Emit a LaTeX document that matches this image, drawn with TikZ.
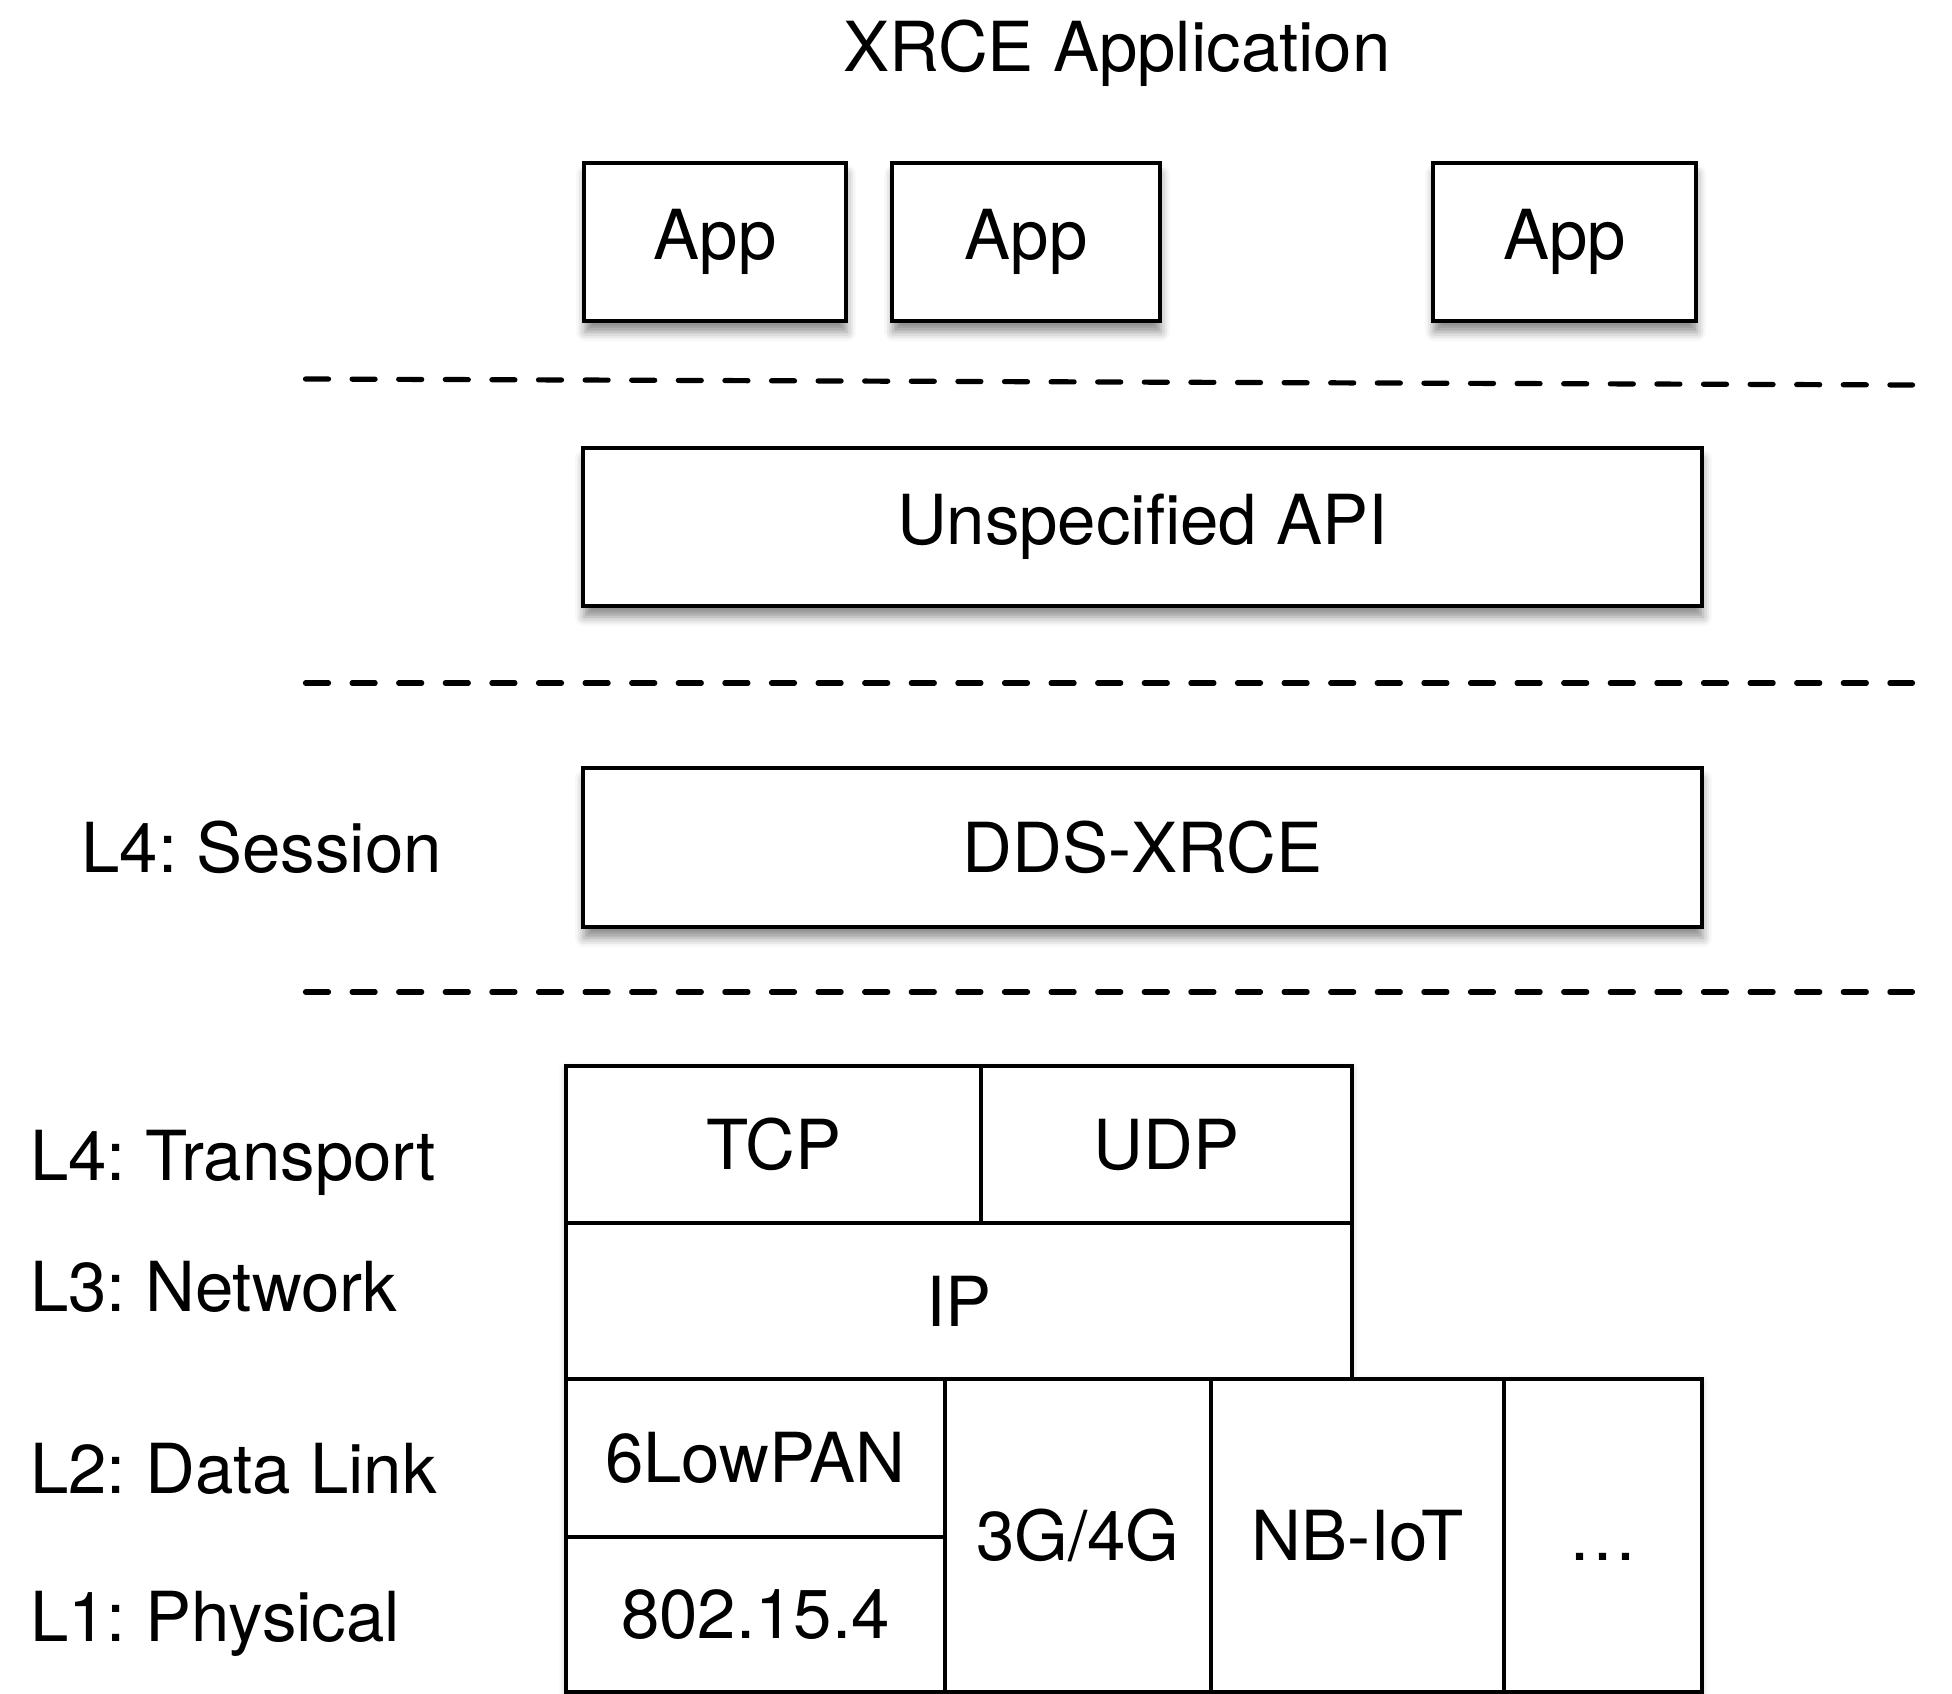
\documentclass[tikz,border=0pt]{standalone}
\usepackage{fontspec}
\setmainfont{TeX Gyre Heros}
\usetikzlibrary{shadows.blur}
\frenchspacing

\tikzset{
  lbl/.style={inner sep=0pt, font=\fontsize{69}{80}\selectfont},
  layerbox/.style={draw=black, line width=4.6pt, fill=white, inner sep=0pt,
    font=\fontsize{69}{80}\selectfont,
    blur shadow={shadow xshift=1pt, shadow yshift=-11pt, shadow blur radius=9pt, shadow opacity=45}},
  cell/.style={draw=black, line width=3.8pt, fill=white, inner sep=0pt,
    font=\fontsize{69}{80}\selectfont},
  divider/.style={line width=5.2pt, line cap=round, dash pattern=on 23pt off 23.6pt},
}

\begin{document}
\begin{tikzpicture}[x=1pt, y=-1pt]
  \useasboundingbox (0,0) rectangle (1952,1694);

  % heading
  \node[lbl, anchor=base] (title) at (1117,71) {XRCE Application};

  % applications
  \node[layerbox, minimum width=262pt, minimum height=158pt] (app1) at (715,242) {App};
  \node[layerbox, minimum width=268pt, minimum height=158pt] (app2) at (1026,242) {App};
  \node[layerbox, minimum width=263pt, minimum height=158pt] (app3) at (1564.5,242) {App};

  % layer separators
  \coordinate (d1a) at (305.5,379);  \coordinate (d1b) at (1912.5,385);
  \coordinate (d2a) at (305.5,683);  \coordinate (d2b) at (1912.5,683);
  \coordinate (d3a) at (305.5,992);  \coordinate (d3b) at (1912.5,992);
  \draw[divider] (d1a) -- (d1b);
  \draw[divider] (d2a) -- (d2b);
  \draw[divider] (d3a) -- (d3b);

  % API and session layers
  \node[layerbox, minimum width=1119pt, minimum height=158pt] (api) at (1142.5,527) {Unspecified API};
  \node[layerbox, minimum width=1119pt, minimum height=159pt] (dds) at (1142.5,847.5) {DDS-XRCE};

  % layer names
  \node[lbl, anchor=base east] (session)   at (442,872)  {L4: Session};
  \node[lbl, anchor=base west] (transport) at (30,1180)  {L4: Transport};
  \node[lbl, anchor=base west] (network)   at (30,1311)  {L3: Network};
  \node[lbl, anchor=base west] (datalink)  at (30,1493)  {L2: Data Link};
  \node[lbl, anchor=base west] (physical)  at (30,1641)  {L1: Physical};

  % soft shadow under the protocol stack
  \path[fill=white, blur shadow={shadow xshift=0pt, shadow yshift=-3pt, shadow blur radius=7pt, shadow opacity=22}]
    (566,1066) -- (1352,1066) -- (1352,1379) -- (1702,1379) -- (1702,1692) -- (566,1692) -- cycle;

  % protocol stack
  \node[cell, minimum width=415pt, minimum height=157pt] (tcp) at (773.5,1144.5) {TCP};
  \node[cell, minimum width=371pt, minimum height=157pt] (udp) at (1166.5,1144.5) {UDP};
  \node[cell, minimum width=786pt, minimum height=156pt] (ip) at (959,1301) {IP};
  \node[cell, minimum width=379pt, minimum height=158pt] (lowpan) at (755.5,1458) {6LowPAN};
  \node[cell, minimum width=379pt, minimum height=155pt] (ieee) at (755.5,1614.5) {802.15.4};
  \node[cell, minimum width=266pt, minimum height=313pt] (cell34) at (1078,1535.5) {3G/4G};
  \node[cell, minimum width=293pt, minimum height=313pt] (nbiot) at (1357.5,1535.5) {NB-IoT};
  \node[cell, minimum width=198pt, minimum height=313pt] (more) at (1603,1535.5) {\vphantom{NB-IoT}…};
\end{tikzpicture}
\end{document}
